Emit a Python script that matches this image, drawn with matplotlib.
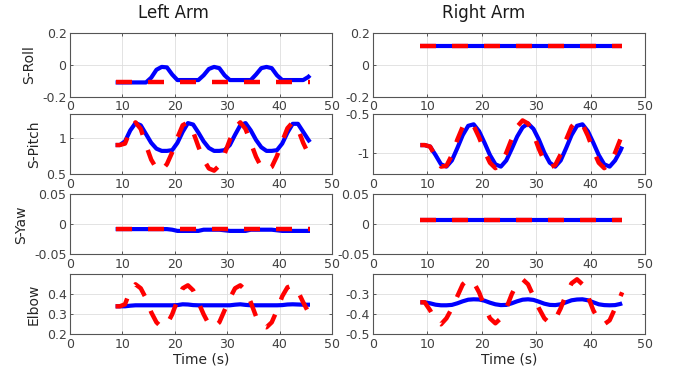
import matplotlib
matplotlib.use("Agg")
import matplotlib.pyplot as plt

# sample times (s) for the oscillating joint traces
t = [8.7, 9.5, 10.5, 11.5, 12.5, 13.5, 14.5, 15.5, 16.5, 17.5, 18.5, 19.5,
     20.5, 21.5, 22.5, 23.5, 24.5, 25.5, 26.5, 27.5, 28.5, 29.5, 30.5, 31.5,
     32.5, 33.5, 34.5, 35.5, 36.5, 37.5, 38.5, 39.5, 40.5, 41.5, 42.5, 43.5,
     44.5, 45.5, 45.8]
# start/end times for the joints that are held constant
t_span = [8.7, 45.8]

# ---- left arm ----
roll_l_meas = [-0.11, -0.11, -0.11, -0.11, -0.11, -0.11, -0.11, -0.08, -0.03, -0.012,
               -0.015, -0.06, -0.095, -0.095, -0.095, -0.095, -0.095, -0.065, -0.025, -0.012,
               -0.02, -0.065, -0.095, -0.095, -0.095, -0.095, -0.095, -0.06, -0.02, -0.012,
               -0.02, -0.065, -0.095, -0.095, -0.095, -0.095, -0.095, -0.075, -0.065]
roll_l_ref = [-0.11, -0.11]

pitch_l_meas = [0.9, 0.9, 0.95, 1.1, 1.2, 1.17, 1.05, 0.93, 0.85, 0.82,
                0.82, 0.83, 0.93, 1.08, 1.2, 1.18, 1.07, 0.95, 0.86, 0.82,
                0.82, 0.83, 0.9, 1.04, 1.17, 1.2, 1.1, 0.97, 0.87, 0.82,
                0.82, 0.83, 0.92, 1.07, 1.19, 1.19, 1.08, 0.97, 0.94]
pitch_l_ref = [0.9, 0.9, 0.92, 1.1, 1.21, 1.12, 0.9, 0.7, 0.58, 0.55,
               0.64, 0.8, 1.0, 1.17, 1.21, 1.08, 0.88, 0.7, 0.58, 0.55,
               0.62, 0.78, 0.97, 1.14, 1.21, 1.12, 0.93, 0.74, 0.6, 0.56,
               0.6, 0.75, 0.95, 1.13, 1.21, 1.12, 0.93, 0.78, 0.74]

yaw_l_meas = [-0.008, -0.008, -0.008, -0.008, -0.008, -0.008, -0.008, -0.008, -0.008, -0.008,
              -0.008, -0.009, -0.011, -0.011, -0.011, -0.011, -0.011, -0.009, -0.009, -0.009,
              -0.009, -0.01, -0.011, -0.011, -0.011, -0.011, -0.009, -0.009, -0.009, -0.009,
              -0.009, -0.01, -0.011, -0.011, -0.011, -0.011, -0.011, -0.011, -0.011]
yaw_l_ref = [-0.007, -0.007]

elbow_l_meas = [0.34, 0.34, 0.34, 0.343, 0.345, 0.345, 0.345, 0.345, 0.345, 0.345,
                0.345, 0.345, 0.346, 0.35, 0.349, 0.346, 0.345, 0.345, 0.345, 0.345,
                0.345, 0.345, 0.345, 0.348, 0.35, 0.347, 0.345, 0.345, 0.345, 0.345,
                0.345, 0.345, 0.346, 0.349, 0.35, 0.349, 0.348, 0.348, 0.348]
elbow_l_ref = [0.34, 0.34, 0.35, 0.42, 0.45, 0.43, 0.38, 0.31, 0.26, 0.235,
               0.25, 0.3, 0.37, 0.43, 0.445, 0.42, 0.36, 0.3, 0.25, 0.235,
               0.26, 0.32, 0.38, 0.43, 0.445, 0.42, 0.36, 0.29, 0.245, 0.235,
               0.26, 0.32, 0.39, 0.435, 0.445, 0.415, 0.36, 0.31, 0.3]

# ---- right arm ----
roll_r_meas = [0.12, 0.12]
roll_r_ref = [0.12, 0.12]

pitch_r_meas = [-0.9, -0.9, -0.92, -1.03, -1.15, -1.18, -1.1, -0.94, -0.77, -0.65,
                -0.63, -0.72, -0.87, -1.03, -1.15, -1.18, -1.1, -0.95, -0.79, -0.67,
                -0.62, -0.69, -0.83, -1.0, -1.13, -1.18, -1.1, -0.94, -0.77, -0.65,
                -0.63, -0.72, -0.87, -1.03, -1.15, -1.18, -1.1, -0.97, -0.92]
pitch_r_ref = [-0.9, -0.9, -0.92, -1.05, -1.18, -1.17, -1.03, -0.83, -0.66, -0.6,
               -0.65, -0.8, -0.98, -1.13, -1.2, -1.15, -1.0, -0.82, -0.66, -0.58,
               -0.62, -0.76, -0.95, -1.11, -1.19, -1.16, -1.02, -0.83, -0.66, -0.58,
               -0.63, -0.78, -0.97, -1.13, -1.2, -1.15, -1.0, -0.82, -0.78]

yaw_r_meas = [0.008, 0.008]
yaw_r_ref = [0.008, 0.008]

elbow_r_meas = [-0.34, -0.34, -0.345, -0.352, -0.355, -0.355, -0.353, -0.345, -0.335, -0.327,
                -0.325, -0.326, -0.332, -0.342, -0.35, -0.354, -0.353, -0.345, -0.335, -0.327,
                -0.325, -0.328, -0.337, -0.347, -0.353, -0.354, -0.35, -0.34, -0.33, -0.326,
                -0.325, -0.33, -0.34, -0.35, -0.354, -0.355, -0.354, -0.348, -0.345]
elbow_r_ref = [-0.34, -0.34, -0.38, -0.43, -0.45, -0.42, -0.37, -0.31, -0.25, -0.225,
               -0.24, -0.29, -0.36, -0.42, -0.445, -0.42, -0.37, -0.3, -0.245, -0.225,
               -0.25, -0.31, -0.37, -0.42, -0.445, -0.425, -0.37, -0.3, -0.245, -0.225,
               -0.25, -0.31, -0.38, -0.43, -0.45, -0.43, -0.37, -0.31, -0.29]

joint_names = ["S-Roll", "S-Pitch", "S-Yaw", "Elbow"]
col_titles = ["Left Arm", "Right Arm"]

# (x meas, measured, x ref, reference, ylim, yticks, yticklabels) per panel
panels = [
    [(t, roll_l_meas, t_span, roll_l_ref, (-0.2, 0.2), [-0.2, 0, 0.2], ["-0.2", "0", "0.2"]),
     (t_span, roll_r_meas, t_span, roll_r_ref, (-0.2, 0.2), [-0.2, 0, 0.2], ["-0.2", "0", "0.2"])],
    [(t, pitch_l_meas, t, pitch_l_ref, (0.5, 1.32), [0.5, 1], ["0.5", "1"]),
     (t, pitch_r_meas, t, pitch_r_ref, (-1.28, -0.5), [-1, -0.5], ["-1", "-0.5"])],
    [(t, yaw_l_meas, t_span, yaw_l_ref, (-0.05, 0.05), [-0.05, 0, 0.05], ["-0.05", "0", "0.05"]),
     (t_span, yaw_r_meas, t_span, yaw_r_ref, (-0.05, 0.05), [-0.05, 0, 0.05], ["-0.05", "0", "0.05"])],
    [(t, elbow_l_meas, t, elbow_l_ref, (0.2, 0.5), [0.2, 0.3, 0.4], ["0.2", "0.3", "0.4"]),
     (t, elbow_r_meas, t, elbow_r_ref, (-0.5, -0.2), [-0.5, -0.4, -0.3], ["-0.5", "-0.4", "-0.3"])],
]

W, H = 675, 378
fig = plt.figure(figsize=(W / 100, H / 100), dpi=100)

col_x = [(70, 332), (373, 645)]
row_y = [(33.3, 96.7), (114.3, 174.3), (194.3, 254.3), (274.3, 334.3)]
axcol = "#404040"

for r in range(4):
    for c in range(2):
        x0, x1 = col_x[c]
        y0, y1 = row_y[r]
        ax = fig.add_axes([x0 / W, 1 - y1 / H, (x1 - x0) / W, (y1 - y0) / H])
        tm, ym, tr, yr, ylim, yt, ytl = panels[r][c]
        ax.plot(tm, ym, color=(0, 0, 1), lw=3.0, solid_capstyle="butt", zorder=3)
        ax.plot(tr, yr, color=(1, 0, 0), lw=3.2, linestyle=(0, (3.6, 3.6)), zorder=4)
        ax.set_xlim(0, 50)
        ax.set_ylim(*ylim)
        ax.set_xticks([0, 10, 20, 30, 40, 50])
        ax.set_yticks(yt)
        ax.set_yticklabels(ytl)
        ax.grid(True, color="#dedede", lw=0.6)
        ax.set_axisbelow(True)
        ax.tick_params(direction="in", length=2.5, width=0.6, labelsize=9,
                       colors=axcol, top=True, right=True, pad=2.5)
        for s in ax.spines.values():
            s.set_color("#555555")
            s.set_linewidth(0.8)
        if c == 0:
            ax.set_ylabel(joint_names[r], fontsize=10, color="#262626", labelpad=4)
        if r == 3:
            ax.set_xlabel("Time (s)", fontsize=10, color="#262626", labelpad=1)

fig.text(173.5 / W, 1 - 13.5 / H, col_titles[0], ha="center", va="center",
         fontsize=12, color="#1a1a1a")
fig.text(484 / W, 1 - 13.5 / H, col_titles[1], ha="center", va="center",
         fontsize=12, color="#1a1a1a")

fig.savefig("out.png", dpi=100)
